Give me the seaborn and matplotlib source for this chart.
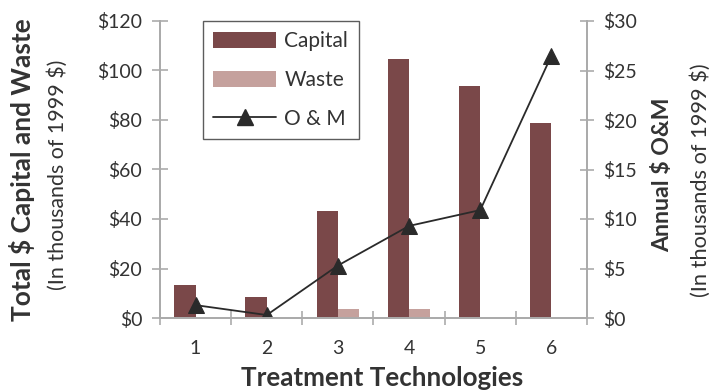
import matplotlib
matplotlib.use("Agg")
import matplotlib.pyplot as plt
import seaborn as sns
import pandas as pd
import numpy as np
from matplotlib.patches import Patch
from matplotlib.lines import Line2D

categories = ["1", "2", "3", "4", "5", "6"]
capital = [13.3, 8.6, 43.2, 104.5, 93.9, 78.7]
waste = [0, 0, 3.8, 3.8, 0, 0]
om = [1.3, 0.3, 5.3, 9.3, 10.9, 26.5]
left_ticks = [0, 20, 40, 60, 80, 100, 120]
left_ticklabels = ["$0", "$20", "$40", "$60", "$80", "$100", "$120"]
right_ticks = [0, 5, 10, 15, 20, 25, 30]
right_ticklabels = ["$0", "$5", "$10", "$15", "$20", "$25", "$30"]

sns.set_theme(style="white")
plt.rcParams['font.family'] = ['Lato', 'DejaVu Sans']

CAP = "#7a4849"
WST = "#c5a19d"
TXT = "#333333"
SP = "#ababab"
W, H = 714, 392

df = pd.DataFrame({
    "cat": categories * 2,
    "series": ["Capital"] * 6 + ["Waste"] * 6,
    "value": capital + waste,
})

fig = plt.figure(figsize=(7.14, 3.92), dpi=100)
ax = fig.add_axes([160 / W, 1 - 318 / H, (587 - 160) / W, (318 - 21) / H])
sns.barplot(data=df, x="cat", y="value", hue="series", palette=[CAP, WST],
            width=0.6, ax=ax, legend=False, saturation=1, linewidth=0)
ax.set_xlim(-0.5, 5.5)
ax.set_ylim(0, 120)
ax.set_yticks(left_ticks)
ax.set_yticklabels(left_ticklabels, fontsize=14, color=TXT)
ax.set_xticks(range(len(categories)))
ax.set_xticklabels(categories, fontsize=14, color=TXT)
ax.tick_params(axis="x", which="major", bottom=True, length=0, pad=16)
ax.tick_params(axis="y", left=True, length=11.5, direction="inout", color=SP, width=1.2, pad=7)
ax.set_xlabel("")
ax.set_ylabel("")
ax.set_xticks(np.arange(-0.5, 6.0, 1.0), minor=True)
ax.tick_params(axis="x", which="minor", bottom=True, length=9.5, direction="inout", color=SP, width=1.2)
for s in ["left", "bottom", "right"]:
    ax.spines[s].set_color(SP)
    ax.spines[s].set_linewidth(1.4)
ax.spines["top"].set_visible(False)

ax2 = ax.twinx()
sns.lineplot(x=np.arange(len(categories)), y=om, ax=ax2, color="#2a2a2a",
             marker="^", markersize=11, markeredgecolor="#2a2a2a",
             markerfacecolor="#2a2a2a", linewidth=1.3)
ax2.set_ylim(0, 30)
ax2.set_yticks(right_ticks)
ax2.set_yticklabels(right_ticklabels, fontsize=14, color=TXT)
ax2.tick_params(axis="y", right=True, length=9.5, direction="inout", color=SP, width=1.2, pad=7)
ax2.set_xlim(-0.5, 5.5)
ax2.set_ylabel("")
for s in ["left", "bottom", "right"]:
    ax2.spines[s].set_color(SP)
    ax2.spines[s].set_linewidth(1.4)
ax2.spines["top"].set_visible(False)

handles = [Patch(facecolor=CAP, edgecolor="none"),
           Patch(facecolor=WST, edgecolor="none"),
           Line2D([0], [0], color="#2a2a2a", marker="^", markersize=11, linewidth=1.3)]
leg = ax2.legend(handles, ["Capital", "Waste", "O & M"], loc="upper left",
                 bbox_to_anchor=(203 / W, 1 - 21 / H), bbox_transform=fig.transFigure,
                 borderaxespad=0, frameon=True, fancybox=False,
                 fontsize=15, handlelength=3.0, handleheight=0.8,
                 labelspacing=0.9, borderpad=0.5, handletextpad=0.4)
leg.get_frame().set_edgecolor("#333333")
leg.get_frame().set_linewidth(1.0)
for t in leg.get_texts():
    t.set_color(TXT)

t1 = fig.text(22 / W, 1 - 170 / H, "Total $ Capital and Waste", rotation=90, ha="center", va="center",
              fontsize=14, fontweight="bold", color=TXT)
t2 = fig.text(58 / W, 1 - 175 / H, "(In thousands of 1999 $)", rotation=90, ha="center", va="center",
              fontsize=12.5, color=TXT)
t3 = fig.text(663 / W, 1 - 175 / H, "Annual $ O&M", rotation=90, ha="center", va="center",
              fontsize=14, fontweight="bold", color=TXT)
t4 = fig.text(701 / W, 1 - 180 / H, "(In thousands of 1999 $)", rotation=90, ha="center", va="center",
              fontsize=12.5, color=TXT)
t5 = fig.text(382 / W, 1 - 378 / H, "Treatment Technologies", ha="center", va="center",
              fontsize=14, fontweight="bold", color=TXT)

# scale text sizes so the rendered lengths match the reference
fig.canvas.draw()
r = fig.canvas.get_renderer()
for t, target, vertical in [(t1, 304, True), (t2, 230, True), (t3, 156, True),
                            (t4, 235, True), (t5, 283, False)]:
    bb = t.get_window_extent(r)
    cur = bb.height if vertical else bb.width
    t.set_fontsize(t.get_fontsize() * target / cur)

fig.savefig("out.png", dpi=100)
